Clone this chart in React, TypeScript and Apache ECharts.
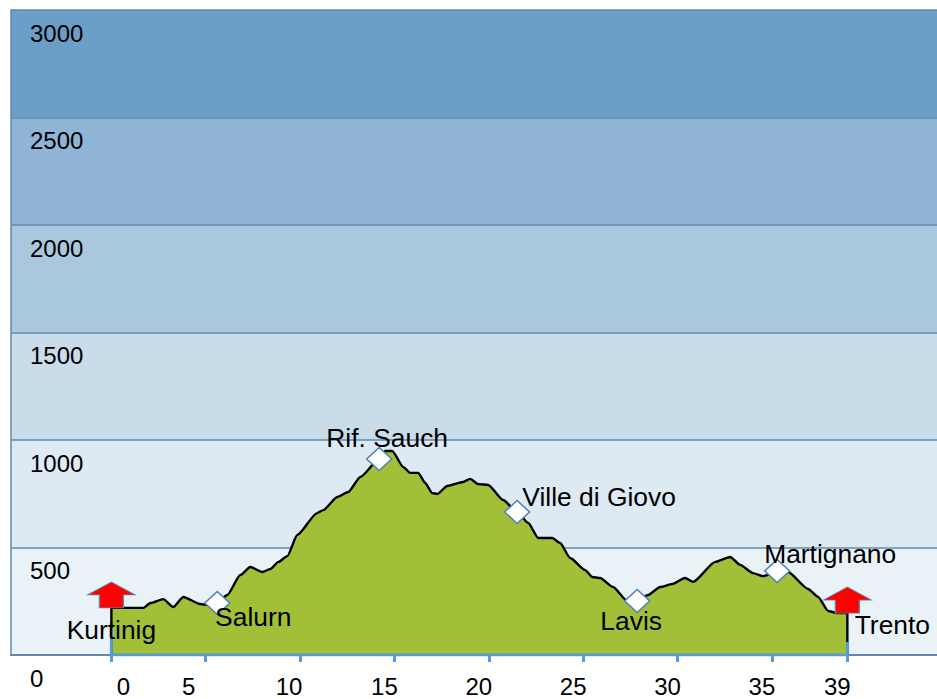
import React, { useEffect, useRef } from "react";
import * as echarts from "echarts";

const FONT = '"Liberation Sans", Arial, sans-serif';

const tickValues = [0, 5, 10, 15, 20, 25, 30, 35, 39];
const tickLabelNudge = [12, -17, -11, -10, -10, -10, -10, -10, -10];

const bandEdges = [0, 500, 1000, 1500, 2000, 2500, 3000];
const bandColors = ["#e9f2f6", "#dde9f3", "#c9dcea", "#a9c7dd", "#8fb4d6", "#6c9fc8"];

// Profile: [km, elevation in metres]
const profileKm = [
  0, 0, 0.3, 1.7, 2.07, 2.75, 3.28, 3.81, 4.71, 5.08, 5.61, 6.14, 6.83, 7.36, 8.0, 8.42, 8.85, 9.32, 9.85, 10.9,
  11.23, 11.97, 12.55, 13.19, 14.19, 14.51, 14.88, 15.47, 15.84, 16.26, 16.63, 17.0, 17.27, 17.8, 18.64, 19.01,
  19.44, 19.97, 20.76, 21.5, 22.09, 22.62, 23.36, 23.78, 24.31, 25.11, 25.48, 25.9, 26.59, 27.28, 27.86, 28.44, 29.08,
  29.71, 30.4, 30.83, 32.0, 32.79, 33.32, 34.0, 34.53, 35.28, 35.86, 36.92, 37.45, 37.98, 38.45, 39.0, 39.0,
];
const profileElev = [
  0, 219, 219, 219, 242, 260, 223, 270, 237, 233, 242, 279, 372, 409, 386, 400, 433, 460, 558, 660,
  674, 735, 758, 828, 912, 949, 949, 874, 847, 847, 800, 753, 749, 786, 805, 819,
  795, 791, 721, 665, 614, 544, 544, 521, 451, 395, 363, 358, 316, 256, 251, 279, 316,
  330, 358, 340, 433, 456, 419, 381, 367, 386, 386, 307, 270, 205, 195, 195, 0,
];

const stopNames = ["Salurn", "Rif. Sauch", "Ville di Giovo", "Lavis", "Martignano"];
const stopKm = [5.61, 14.19, 21.5, 27.86, 35.28];
const stopElev = [242, 912, 665, 251, 391];
const stopLabelOffset = [[36, 14], [8, -21], [82, -15], [-6, 20], [53, -17]];

const endNames = ["Kurtinig", "Trento"];
const endKm = [0, 39];
const endElev = [219, 195];
const endLabelOffset = [[0, 22], [45, 12]];

const postTop = [125, 60];

const ARROW = "path://M24 0 L48 13 L36 13 L36 26 L12 26 L12 13 L0 13 Z";

export default function App() {
  const ref = useRef<HTMLDivElement>(null);
  useEffect(() => {
    const chart = echarts.init(ref.current!, null, { renderer: "svg" });
    const labelBase = { show: true, color: "#000", fontFamily: FONT, fontSize: 26.4, position: "inside" as const };
    chart.setOption({
      animation: false,
      textStyle: { fontFamily: FONT },
      grid: { left: 11, top: 10, width: 926, height: 645, containLabel: false },
      xAxis: {
        type: "value",
        min: -5.32,
        max: 43.75,
        splitLine: { show: false },
        axisLine: { show: true, onZero: false, lineStyle: { color: "#5f89b0", width: 2 } },
        axisTick: { show: true, customValues: tickValues, length: 7, lineStyle: { color: "#5b9bd5", width: 3 } },
        axisLabel: { show: false },
        z: 6,
      },
      yAxis: {
        type: "value",
        min: 0,
        max: 3000,
        interval: 500,
        axisLine: { show: true, onZero: false, lineStyle: { color: "#5f89b0", width: 1.5 } },
        axisTick: { show: false },
        splitLine: { show: true, lineStyle: { color: "#5f89b0", width: 1.5 } },
        axisLabel: {
          show: true,
          inside: true,
          margin: 19,
          align: "left",
          verticalAlign: "top",
          padding: [11, 0, 0, 0],
          color: "#000",
          fontFamily: FONT,
          fontSize: 24,
          formatter: (v: number) => String(v),
        },
        z: 3,
      },
      series: [
        {
          type: "line",
          z: 1,
          data: [],
          silent: true,
          markArea: {
            silent: true,
            itemStyle: { opacity: 1 },
            data: bandColors.map((c, i) => [
              { yAxis: bandEdges[i], itemStyle: { color: c } },
              { yAxis: bandEdges[i + 1] },
            ]),
          },
        },
        {
          type: "line",
          z: 5,
          data: profileKm.map((k, i) => [k, profileElev[i]]),
          symbol: "none",
          smooth: 0.2,
          smoothMonotone: "x",
          lineStyle: { color: "#000", width: 2.4 },
          areaStyle: { color: "#a2c037", opacity: 1 },
          silent: true,
        },
        {
          type: "line",
          z: 6,
          data: [[endKm[0], postTop[0]], [endKm[0], 0], [endKm[1], 0], [endKm[1], postTop[1]]],
          symbol: "none",
          lineStyle: { color: "#5b9bd5", width: 3 },
          silent: true,
        },
        {
          type: "scatter",
          z: 7,
          clip: false,
          symbol: ARROW,
          symbolSize: [48, 26],
          symbolOffset: [0, -13],
          itemStyle: { color: "#ff0000", borderColor: "#5f89b0", borderWidth: 1, opacity: 1 },
          data: endKm.map((k, i) => [k, endElev[i]]),
          silent: true,
        },
        {
          type: "scatter",
          z: 8,
          clip: false,
          symbol: "diamond",
          symbolSize: [25, 23],
          itemStyle: { color: "#fff", borderColor: "#4f81bd", borderWidth: 1.5, opacity: 1 },
          data: stopKm.map((k, i) => ({
            value: [k, stopElev[i]],
            label: { ...labelBase, formatter: stopNames[i], offset: stopLabelOffset[i] },
          })),
          silent: true,
        },
        {
          type: "scatter",
          z: 9,
          clip: false,
          symbolSize: 0,
          itemStyle: { opacity: 1 },
          data: endKm.map((k, i) => ({
            value: [k, endElev[i]],
            label: { ...labelBase, formatter: endNames[i], offset: endLabelOffset[i] },
          })),
          silent: true,
        },
        {
          type: "scatter",
          z: 9,
          clip: false,
          symbolSize: 0,
          itemStyle: { opacity: 1 },
          data: tickValues.map((v, i) => ({
            value: [v, 0],
            label: { ...labelBase, fontSize: 24, formatter: String(v), offset: [tickLabelNudge[i], 31] },
          })),
          silent: true,
        },
      ],
    });
    return () => chart.dispose();
  }, []);
  return <div ref={ref} style={{ position: "absolute", left: 0, top: 0, width: 937, height: 699 }} />;
}
